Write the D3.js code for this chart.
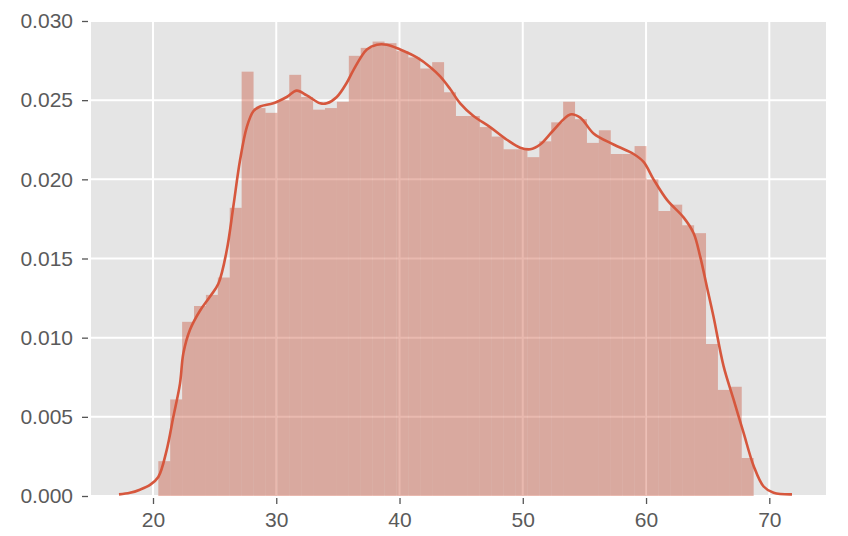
<!DOCTYPE html>
<html>
<head>
<meta charset="utf-8">
<script src="https://cdn.jsdelivr.net/npm/d3@7"></script>
<style>
  html, body { margin: 0; padding: 0; background: #ffffff; }
  svg { display: block; }
  .tick text { font-family: "Liberation Sans", Arial, sans-serif; }
</style>
</head>
<body>
<svg id="chart" width="848" height="536"></svg>
<script>
// ---- data ----
const histStart = 20.43;
const histBinWidth = 0.966;
const histDensity = [
  0.0022, 0.0061, 0.0110, 0.0120, 0.0127, 0.0138, 0.0182, 0.0268, 0.0245, 0.0242,
  0.0250, 0.0266, 0.0252, 0.0244, 0.0245, 0.0249, 0.0278, 0.0283, 0.0287, 0.0286,
  0.0281, 0.0277, 0.0270, 0.0274, 0.0255, 0.0240, 0.0240, 0.0233, 0.0227, 0.0219,
  0.0219, 0.0214, 0.0224, 0.0236, 0.0249, 0.0238, 0.0223, 0.0231, 0.0216, 0.0216,
  0.0221, 0.0200, 0.0180, 0.0184, 0.0171, 0.0166, 0.0096, 0.0067, 0.0069, 0.0024
];
const kdeX = [
  17.24, 18.13, 18.94, 19.76, 20.43, 21.11, 21.65, 22.19, 22.46, 23.00,
  23.81, 24.63, 25.30, 25.98, 26.52, 27.06, 27.61, 28.14, 28.69, 29.76,
  30.85, 31.66, 32.48, 33.56, 34.10, 34.91, 35.72, 36.26, 37.35, 38.16,
  38.97, 40.05, 41.40, 42.48, 43.30, 44.11, 44.92, 46.00, 47.35, 48.71,
  49.79, 50.60, 51.41, 52.49, 53.85, 54.66, 55.74, 57.36, 58.99, 59.80,
  60.61, 61.70, 63.04, 63.86, 64.40, 64.94, 65.48, 66.29, 67.10, 67.91,
  68.73, 69.54, 70.35, 71.84
];
const kdeY = [
  0.0001, 0.0002, 0.0004, 0.0007, 0.0012, 0.0029, 0.0050, 0.0071, 0.0090, 0.0105,
  0.0117, 0.0126, 0.0134, 0.0155, 0.0183, 0.0212, 0.0233, 0.0243, 0.0246, 0.0248,
  0.0252, 0.0256, 0.0253, 0.0248, 0.0248, 0.0252, 0.0261, 0.0269, 0.0282, 0.0285,
  0.0285, 0.0282, 0.0277, 0.0271, 0.0265, 0.0257, 0.0248, 0.0240, 0.0233, 0.0225,
  0.0220, 0.0219, 0.0222, 0.0231, 0.0241, 0.0239, 0.0229, 0.0222, 0.0216, 0.0211,
  0.0200, 0.0187, 0.0176, 0.0166, 0.0151, 0.0132, 0.0113, 0.0082, 0.0061, 0.0040,
  0.0019, 0.0006, 0.0002, 0.0001
];
const xTicks = [20, 30, 40, 50, 60, 70];
const yTicks = [0.000, 0.005, 0.010, 0.015, 0.020, 0.025, 0.030];

// ---- layout ----
const svg = d3.select("#chart");
const plotL = 91, plotR = 826, plotT = 20, plotB = 496;
const x = d3.scaleLinear().domain([14.97, 74.6]).range([plotL, plotR]);
const y = d3.scaleLinear().domain([0, 0.030063]).range([plotB, plotT]);

const bars = histDensity.map((d, i) => ({
  x0: histStart + i * histBinWidth,
  x1: histStart + (i + 1) * histBinWidth,
  v: d
}));

// background
svg.append("rect")
  .attr("x", plotL).attr("y", plotT)
  .attr("width", plotR - plotL).attr("height", plotB - plotT)
  .attr("fill", "#E5E5E5");

// grid
svg.append("g").selectAll("line").data(xTicks).join("line")
  .attr("x1", d => x(d)).attr("x2", d => x(d))
  .attr("y1", plotT).attr("y2", plotB)
  .attr("stroke", "#ffffff").attr("stroke-width", 2);
svg.append("g").selectAll("line").data(yTicks).join("line")
  .attr("x1", plotL).attr("x2", plotR)
  .attr("y1", d => y(d)).attr("y2", d => y(d))
  .attr("stroke", "#ffffff").attr("stroke-width", 2);

// histogram
svg.append("g").selectAll("rect").data(bars).join("rect")
  .attr("x", d => x(d.x0))
  .attr("width", d => x(d.x1) - x(d.x0))
  .attr("y", d => y(d.v))
  .attr("height", d => y(0) - y(d.v))
  .attr("fill", "#C94F36")
  .attr("fill-opacity", 0.4);

// kde line
const pts = kdeX.map((d, i) => [d, kdeY[i]]);
svg.append("path")
  .datum(pts)
  .attr("fill", "none")
  .attr("stroke", "#D6573D")
  .attr("stroke-width", 2.6)
  .attr("stroke-linejoin", "round")
  .attr("d", d3.line().x(d => x(d[0])).y(d => y(d[1])).curve(d3.curveCatmullRom.alpha(0.5)));

// axes
const xAxis = d3.axisBottom(x).tickValues(xTicks).tickFormat(d3.format("d"))
  .tickSize(6).tickPadding(8);
const yAxis = d3.axisLeft(y).tickValues(yTicks).tickFormat(d3.format(".3f"))
  .tickSize(6).tickPadding(9);

const gx = svg.append("g").attr("transform", `translate(0,${plotB + 2})`).call(xAxis);
const gy = svg.append("g").attr("transform", `translate(${plotL - 3},0)`).call(yAxis);

[gx, gy].forEach(g => {
  g.select(".domain").remove();
  g.selectAll(".tick line").attr("stroke", "#555555").attr("stroke-width", 1.3);
  g.selectAll(".tick text")
    .attr("fill", "#5a5a5a")
    .style("font-size", "21px");
});
</script>
</body>
</html>
